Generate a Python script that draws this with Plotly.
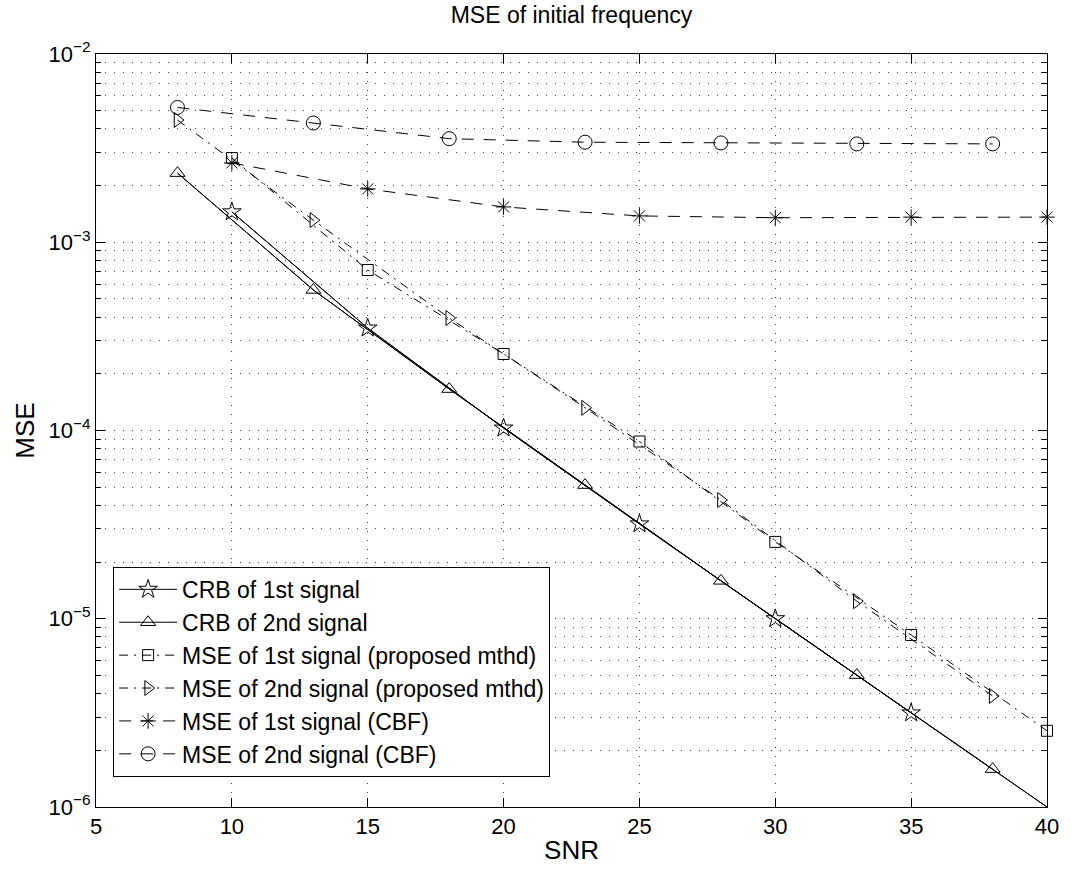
import plotly.graph_objects as go

# ---- data ----
snr_crb1 = [10, 15, 20, 25, 30, 35, 40]
crb1 = [1.45e-3, 3.5e-4, 1.03e-4, 3.19e-5, 1.0e-5, 3.16e-6, 1.0e-6]

snr_crb2 = [8, 13, 18, 23, 28, 33, 38, 40]
crb2 = [2.33e-3, 5.58e-4, 1.66e-4, 5.13e-5, 1.59e-5, 5.02e-6, 1.59e-6, 1.0e-6]

snr_p1 = [10, 15, 20, 25, 30, 35, 40]
mse_p1 = [2.80e-3, 7.12e-4, 2.55e-4, 8.74e-5, 2.56e-5, 8.2e-6, 2.54e-6]

snr_p2 = [8, 13, 18, 23, 28, 33, 38]
mse_p2 = [4.46e-3, 1.31e-3, 3.96e-4, 1.32e-4, 4.27e-5, 1.24e-5, 3.89e-6]

snr_c1 = [10, 15, 20, 25, 30, 35, 40]
mse_c1 = [2.64e-3, 1.92e-3, 1.54e-3, 1.38e-3, 1.35e-3, 1.36e-3, 1.36e-3]

snr_c2 = [8, 13, 18, 23, 28, 33, 38]
mse_c2 = [5.2e-3, 4.3e-3, 3.55e-3, 3.4e-3, 3.37e-3, 3.33e-3, 3.33e-3]

names = [
    "CRB of 1st signal",
    "CRB of 2nd signal",
    "MSE of 1st signal (proposed mthd)",
    "MSE of 2nd signal (proposed mthd)",
    "MSE of 1st signal (CBF)",
    "MSE of 2nd signal (CBF)",
]

y_tick_vals = [1e-6, 1e-5, 1e-4, 1e-3, 1e-2]
y_tick_text = ["10<sup>\u22126</sup>", "10<sup>\u22125</sup>", "10<sup>\u22124</sup>",
               "10<sup>\u22123</sup>", "10<sup>\u22122</sup>"]
x_tick_vals = [5, 10, 15, 20, 25, 30, 35, 40]

DASH = "12px,10px"
DASHDOT = "9px,6px,2px,6px"
FONT = "Liberation Sans"

fig = go.Figure()

def mk(symbol, size):
    return dict(symbol=symbol, size=size, color="black",
                line=dict(color="black", width=1))

# CRB 1st: line to 40, markers on all but last point
fig.add_trace(go.Scatter(x=snr_crb1, y=crb1, mode="lines", line=dict(color="black", width=1),
                         showlegend=False, legendgroup="g1", hoverinfo="skip"))
fig.add_trace(go.Scatter(x=snr_crb1[:-1], y=crb1[:-1], mode="lines+markers", name=names[0],
                         legendgroup="g1", line=dict(color="black", width=1),
                         marker=mk("star-open", 14), cliponaxis=False))
# CRB 2nd
fig.add_trace(go.Scatter(x=snr_crb2, y=crb2, mode="lines", line=dict(color="black", width=1),
                         showlegend=False, legendgroup="g2", hoverinfo="skip"))
fig.add_trace(go.Scatter(x=snr_crb2[:-1], y=crb2[:-1], mode="lines+markers", name=names[1],
                         legendgroup="g2", line=dict(color="black", width=1),
                         marker=mk("triangle-up-open", 13), cliponaxis=False))
# proposed
fig.add_trace(go.Scatter(x=snr_p1, y=mse_p1, mode="lines+markers", name=names[2],
                         line=dict(color="black", width=1, dash=DASHDOT),
                         marker=mk("square-open", 11), cliponaxis=False))
fig.add_trace(go.Scatter(x=snr_p2, y=mse_p2, mode="lines+markers", name=names[3],
                         line=dict(color="black", width=1, dash=DASHDOT),
                         marker=mk("triangle-right-open", 13), cliponaxis=False))
# CBF
fig.add_trace(go.Scatter(x=snr_c1, y=mse_c1, mode="lines+markers", name=names[4],
                         line=dict(color="black", width=1, dash=DASH),
                         marker=mk("asterisk-open", 13), cliponaxis=False))
fig.add_trace(go.Scatter(x=snr_c2, y=mse_c2, mode="lines+markers", name=names[5],
                         line=dict(color="black", width=1, dash=DASH),
                         marker=mk("circle-open", 14), cliponaxis=False))

grid_common = dict(showgrid=True, gridcolor="#444", gridwidth=1, griddash="1px,8px")

fig.update_layout(
    width=1071, height=874,
    margin=dict(l=96, r=22, t=54, b=67),
    paper_bgcolor="white", plot_bgcolor="white",
    font=dict(family=FONT, size=22, color="black"),
    title=dict(text="MSE of initial frequency", x=0.5, xref="paper", xanchor="center",
               y=1 - 15 / 874, yref="container", yanchor="middle",
               font=dict(family=FONT, size=23, color="black")),
    showlegend=True,
    legend=dict(x=0.018, y=0.04, xanchor="left", yanchor="bottom",
                bgcolor="white", bordercolor="black", borderwidth=1,
                font=dict(family=FONT, size=23, color="black"),
                itemwidth=58, tracegroupgap=0),
    xaxis=dict(range=[5, 40], tickmode="array", tickvals=x_tick_vals,
               ticks="inside", ticklen=9, tickcolor="black", tickwidth=1,
               showline=True, linecolor="black", linewidth=1, mirror="ticks",
               zeroline=False, title=dict(text="SNR", standoff=2),
               tickfont=dict(family=FONT, size=22), **grid_common),
    yaxis=dict(type="log", range=[-6, -2], tickmode="array", tickvals=y_tick_vals,
               ticktext=y_tick_text,
               ticks="inside", ticklen=9, tickcolor="black", tickwidth=1,
               showline=True, linecolor="black", linewidth=1, mirror="ticks",
               zeroline=False, title=dict(text="MSE", standoff=6),
               tickfont=dict(family=FONT, size=22),
               minor=dict(dtick="D1", ticks="inside", ticklen=5, tickcolor="black",
                          showgrid=True, gridcolor="#444", gridwidth=1, griddash="1px,8px"),
               **grid_common),
)

fig.write_html("out.html")
